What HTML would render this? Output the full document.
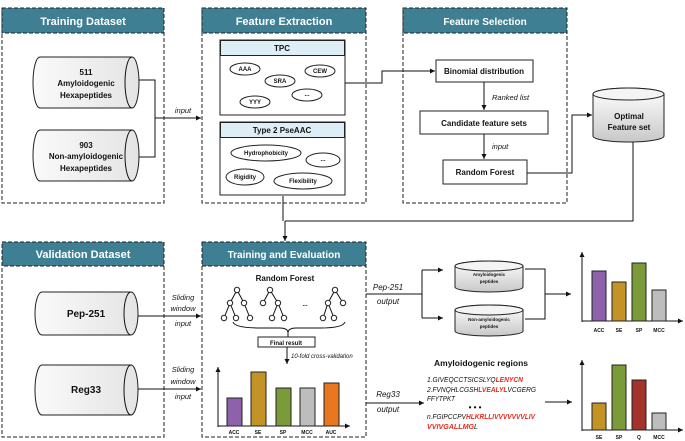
<!DOCTYPE html>
<html><head><meta charset="utf-8"><style>
html,body{margin:0;padding:0;background:#fff}
svg{display:block}
text{font-family:"Liberation Sans",sans-serif}
.h{fill:#fff;font-weight:bold;font-size:11px}
.b{font-weight:bold;font-size:8px;fill:#111}
.s{font-weight:bold;font-size:6px;fill:#111}
.i{font-style:italic;font-size:7.5px;fill:#111}
.pn{fill:#fff;stroke:#222;stroke-dasharray:4,2;stroke-width:1}
.hd{fill:#3f7f93;stroke:#222;stroke-dasharray:4,2;stroke-width:1}
.ln{fill:none;stroke:#111;stroke-width:1}
.bx{fill:#fff;stroke:#222;stroke-width:1}
.el{fill:#fff;stroke:#222;stroke-width:1}
.cy{fill:#ececec;stroke:#222;stroke-width:1}
.seq{font-style:italic;font-size:7.5px;fill:#111}
.r{fill:#e32b1e;font-weight:bold}
</style></head><body>
<svg width="685" height="441" viewBox="0 0 685 441" xmlns="http://www.w3.org/2000/svg">
<defs>
<marker id="a" markerWidth="6" markerHeight="6" refX="5" refY="3" orient="auto" markerUnits="userSpaceOnUse"><path d="M0,0.5 L5,3 L0,5.5z" fill="#111"/></marker>
<linearGradient id="g" x1="0" y1="0" x2="0" y2="1"><stop offset="0" stop-color="#fff"/><stop offset="1" stop-color="#c8c8c8"/></linearGradient>
<linearGradient id="gh" x1="0" y1="0" x2="1" y2="0"><stop offset="0" stop-color="#fafafa"/><stop offset="1" stop-color="#e4e4e4"/></linearGradient>
</defs>

<!-- Panels -->
<rect class="pn" x="2" y="8" width="162" height="195"/><rect class="hd" x="2" y="8" width="162" height="25"/>
<text class="h" x="83" y="25" text-anchor="middle">Training Dataset</text>
<rect class="pn" x="202" y="8" width="164" height="195"/><rect class="hd" x="202" y="8" width="164" height="25"/>
<text class="h" x="284" y="25" text-anchor="middle">Feature Extraction</text>
<rect class="pn" x="403" y="8" width="164" height="195"/><rect class="hd" x="403" y="8" width="164" height="25"/>
<text class="h" x="485" y="25" text-anchor="middle" style="font-size:10px">Feature Selection</text>
<rect class="pn" x="2" y="242" width="162" height="195"/><rect class="hd" x="2" y="242" width="162" height="24"/>
<text class="h" x="83" y="258" text-anchor="middle">Validation Dataset</text>
<rect class="pn" x="202" y="242" width="164" height="195"/><rect class="hd" x="202" y="242" width="164" height="24"/>
<text class="h" x="284" y="258" text-anchor="middle" style="font-size:10px">Training and Evaluation</text>

<!-- Training cylinders (horizontal) -->
<path class="cy" style="fill:url(#gh)" d="M40,57 L132,57 A7,25.5 0 0 1 132,108 L40,108 A7,25.5 0 0 1 40,57z"/>
<path class="ln" d="M132,57 A7,25.5 0 0 0 132,108"/>
<text class="b" x="86" y="75" text-anchor="middle">511</text>
<text class="b" x="86" y="86" text-anchor="middle">Amyloidogenic</text>
<text class="b" x="86" y="98" text-anchor="middle">Hexapeptides</text>
<path class="cy" style="fill:url(#gh)" d="M40,130 L132,130 A7,25.5 0 0 1 132,181 L40,181 A7,25.5 0 0 1 40,130z"/>
<path class="ln" d="M132,130 A7,25.5 0 0 0 132,181"/>
<text class="b" x="86" y="148" text-anchor="middle">903</text>
<text class="b" x="86" y="159" text-anchor="middle">Non-amyloidogenic</text>
<text class="b" x="86" y="171" text-anchor="middle">Hexapeptides</text>
<path class="ln" d="M139,80 H155 V157 H139 M155,118 H201" marker-end="url(#a)"/>
<text class="i" x="183" y="113" text-anchor="middle">input</text>

<!-- TPC -->
<rect class="bx" x="220" y="40" width="125" height="75"/><rect x="220.5" y="40.5" width="124" height="15" fill="#deeef6" stroke="#222"/>
<text class="b" x="282" y="51" text-anchor="middle">TPC</text>
<ellipse class="el" cx="245" cy="69" rx="15" ry="6"/><text class="s" x="245" y="71" text-anchor="middle">AAA</text>
<ellipse class="el" cx="280" cy="81" rx="15" ry="6"/><text class="s" x="280" y="83" text-anchor="middle">SRA</text>
<ellipse class="el" cx="320" cy="71" rx="15" ry="6"/><text class="s" x="320" y="73" text-anchor="middle">CEW</text>
<ellipse class="el" cx="307" cy="95" rx="15" ry="6"/><text class="s" x="307" y="96" text-anchor="middle">...</text>
<ellipse class="el" cx="255" cy="102" rx="15" ry="6"/><text class="s" x="255" y="104" text-anchor="middle">YYY</text>
<!-- PseAAC -->
<rect class="bx" x="220" y="122" width="125" height="73"/><rect x="220.5" y="122.5" width="124" height="15" fill="#deeef6" stroke="#222"/>
<text class="b" x="282" y="133" text-anchor="middle">Type 2 PseAAC</text>
<ellipse class="el" cx="266" cy="153" rx="35" ry="8"/><text class="s" x="266" y="155" text-anchor="middle">Hydrophobicity</text>
<ellipse class="el" cx="323" cy="160" rx="17" ry="7"/><text class="s" x="323" y="161" text-anchor="middle">...</text>
<ellipse class="el" cx="245" cy="177" rx="19" ry="8"/><text class="s" x="245" y="179" text-anchor="middle">Rigidity</text>
<ellipse class="el" cx="303" cy="181" rx="29" ry="8"/><text class="s" x="303" y="183" text-anchor="middle">Flexibility</text>

<!-- Feature selection -->
<path class="ln" d="M345,83 H382 V71 H435" marker-end="url(#a)"/>
<rect class="bx" x="436" y="60" width="97" height="22"/><text class="b" x="484" y="74" text-anchor="middle">Binomial distribution</text>
<path class="ln" d="M484,82 V110" marker-end="url(#a)"/><text class="i" x="492" y="100">Ranked list</text>
<rect class="bx" x="420" y="111" width="128" height="23"/><text class="b" x="484" y="126" text-anchor="middle">Candidate feature sets</text>
<path class="ln" d="M484,134 V159" marker-end="url(#a)"/><text class="i" x="492" y="149">input</text>
<rect class="bx" x="443" y="160" width="84" height="24"/><text class="b" x="485" y="175" text-anchor="middle">Random Forest</text>
<path class="ln" d="M527,173 H572 V115 H592" marker-end="url(#a)"/>
<!-- Optimal cylinder -->
<path class="cy" style="fill:url(#g)" d="M593,94 A35.5,6 0 0 1 664,94 V136 A35.5,6 0 0 1 593,136z"/>
<ellipse cx="628.5" cy="94" rx="35.5" ry="6" fill="#f4f4f4" stroke="#222"/>
<text class="b" x="629" y="119" text-anchor="middle">Optimal</text>
<text class="b" x="629" y="130" text-anchor="middle">Feature set</text>
<path class="ln" d="M633,142 V221 H285 M283,196 V221 M285,221 V241" marker-end="url(#a)"/>

<!-- Validation cylinders -->
<path class="cy" style="fill:url(#gh)" d="M42,292 L131,292 A7,21.5 0 0 1 131,335 L42,335 A7,21.5 0 0 1 42,292z"/>
<path class="ln" d="M131,292 A7,21.5 0 0 0 131,335"/>
<text class="b" x="86" y="317" text-anchor="middle" style="font-size:10px">Pep-251</text>
<path class="cy" style="fill:url(#gh)" d="M42,365 L131,365 A7,25 0 0 1 131,415 L42,415 A7,25 0 0 1 42,365z"/>
<path class="ln" d="M131,365 A7,25 0 0 0 131,415"/>
<text class="b" x="86" y="393" text-anchor="middle" style="font-size:10px">Reg33</text>
<path class="ln" d="M138,316 H201" marker-end="url(#a)"/>
<path class="ln" d="M138,389 H201" marker-end="url(#a)"/>
<text class="i" x="183" y="300" text-anchor="middle">Sliding</text><text class="i" x="183" y="311" text-anchor="middle">window</text><text class="i" x="183" y="326" text-anchor="middle">input</text>
<text class="i" x="183" y="372" text-anchor="middle">Sliding</text><text class="i" x="183" y="384" text-anchor="middle">window</text><text class="i" x="183" y="399" text-anchor="middle">input</text>

<!-- Training & evaluation -->
<text class="b" x="285" y="281" text-anchor="middle">Random Forest</text>
<g class="ln">
<path d="M237,290 L230,303 M237,290 L244,303 M230,303 L224,318 M230,303 L236,318 M244,303 L250,318"/>
<path d="M270,290 L263,303 M270,290 L278,303 M278,303 L272,318 M278,303 L284,318"/>
<path d="M335,290 L328,303 M335,290 L343,303 M328,303 L323,318 M328,303 L334,318"/>
<path d="M233,322 Q235,328 260,328 H280 Q287,328 288,332 Q289,328 296,328 H320 Q343,328 345,322"/>
</g>
<g fill="#fff" stroke="#222" stroke-width="1">
<circle cx="237" cy="290" r="2.7"/><circle cx="230" cy="303" r="2.7"/><circle cx="244" cy="303" r="2.7"/><circle cx="224" cy="318" r="2.7"/><circle cx="236" cy="318" r="2.7"/><circle cx="250" cy="318" r="2.7"/>
<circle cx="270" cy="290" r="2.7"/><circle cx="263" cy="303" r="2.7"/><circle cx="278" cy="303" r="2.7"/><circle cx="272" cy="318" r="2.7"/><circle cx="284" cy="318" r="2.7"/>
<circle cx="335" cy="290" r="2.7"/><circle cx="328" cy="303" r="2.7"/><circle cx="343" cy="303" r="2.7"/><circle cx="323" cy="318" r="2.7"/><circle cx="334" cy="318" r="2.7"/>
</g>
<text class="s" x="305" y="306" text-anchor="middle">...</text>
<path class="ln" d="M288,332 V337"/>
<rect class="bx" x="258" y="337" width="57" height="10"/><text class="s" x="286" y="345" text-anchor="middle">Final result</text>
<path class="ln" d="M287,347 V364" marker-end="url(#a)"/>
<text class="i" x="291" y="358" style="font-size:6px">10-fold cross-validation</text>
<path class="ln" d="M218,427 V367" marker-end="url(#a)"/><path class="ln" d="M218,426 H350" marker-end="url(#a)"/>
<g stroke="#222" stroke-width="1">
<rect x="227" y="398" width="15" height="28" fill="#8e62ab"/>
<rect x="251" y="372" width="15" height="54" fill="#c39425"/>
<rect x="276" y="388" width="15" height="38" fill="#7b9a3a"/>
<rect x="300" y="388" width="15" height="38" fill="#bdbdbd"/>
<rect x="324" y="383" width="15" height="43" fill="#e8771f"/>
</g>
<g class="s" text-anchor="middle" style="font-size:5px"><text x="234" y="434">ACC</text><text x="258" y="434">SE</text><text x="283" y="434">SP</text><text x="307" y="434">MCC</text><text x="331" y="434">AUC</text></g>

<!-- Pep output -->
<path class="ln" d="M366,294 H422 M422,270 V318 M422,270 H442 M422,318 H442"/>
<path class="ln" d="M432,270 H443" marker-end="url(#a)"/><path class="ln" d="M432,318 H443" marker-end="url(#a)"/>
<text class="i" x="388" y="290" text-anchor="middle" style="font-size:8px">Pep-251</text>
<text class="i" x="388" y="304" text-anchor="middle" style="font-size:8px">output</text>
<path class="cy" style="fill:url(#g)" d="M455,266 A34,5 0 0 1 523,266 V287 A34,5 0 0 1 455,287z"/>
<ellipse cx="489" cy="266" rx="34" ry="5" fill="#f4f4f4" stroke="#222"/>
<text class="s" x="489" y="276" text-anchor="middle" style="font-size:4.5px">Amyloidogenic</text><text class="s" x="489" y="283" text-anchor="middle" style="font-size:4.5px">peptides</text>
<path class="cy" style="fill:url(#g)" d="M455,310 A34,5 0 0 1 523,310 V331 A34,5 0 0 1 455,331z"/>
<ellipse cx="489" cy="310" rx="34" ry="5" fill="#f4f4f4" stroke="#222"/>
<text class="s" x="489" y="321" text-anchor="middle" style="font-size:4.5px">Non-amyloidogenic</text><text class="s" x="489" y="328" text-anchor="middle" style="font-size:4.5px">peptides</text>
<path class="ln" d="M525,269 H545 V319 H525 M545,294 H571" marker-end="url(#a)"/>
<path class="ln" d="M582,322 V252" marker-end="url(#a)"/><path class="ln" d="M582,321 H683" marker-end="url(#a)"/>
<g stroke="#222" stroke-width="1">
<rect x="592" y="271" width="14" height="50" fill="#8e62ab"/>
<rect x="612" y="282" width="14" height="39" fill="#c39425"/>
<rect x="632" y="263" width="14" height="58" fill="#7b9a3a"/>
<rect x="652" y="290" width="14" height="31" fill="#bdbdbd"/>
</g>
<g class="s" text-anchor="middle" style="font-size:5px"><text x="599" y="332">ACC</text><text x="619" y="332">SE</text><text x="639" y="332">SP</text><text x="659" y="332">MCC</text></g>

<!-- Reg output -->
<path class="ln" d="M366,403 H424" marker-end="url(#a)"/>
<text class="i" x="388" y="397" text-anchor="middle" style="font-size:8px">Reg33</text>
<text class="i" x="388" y="412" text-anchor="middle" style="font-size:8px">output</text>
<text class="b" x="481" y="366" text-anchor="middle" style="font-size:8.5px">Amyloidogenic regions</text>
<text class="seq" x="427" y="382" textLength="96" lengthAdjust="spacingAndGlyphs">1.GIVEQCCTSICSLYQ<tspan class="r">LENYCN</tspan></text>
<text class="seq" x="427" y="392" textLength="109" lengthAdjust="spacingAndGlyphs">2.FVNQHLCGSH<tspan class="r">LVEALYL</tspan>VCGERG</text>
<text class="seq" x="427" y="401" textLength="28" lengthAdjust="spacingAndGlyphs">FFYTPKT</text>
<text class="b" x="475" y="410" text-anchor="middle">• • •</text>
<text class="seq" x="427" y="419" textLength="108" lengthAdjust="spacingAndGlyphs">n.FGIPCCPV<tspan class="r">HLKRLLIVVVVVVVLIV</tspan></text>
<text class="seq" x="427" y="429" textLength="51" lengthAdjust="spacingAndGlyphs"><tspan class="r">VVIVGALLMG</tspan>L</text>
<path class="ln" d="M545,402 H572" marker-end="url(#a)"/>
<path class="ln" d="M582,431 V360" marker-end="url(#a)"/><path class="ln" d="M582,430 H683" marker-end="url(#a)"/>
<g stroke="#222" stroke-width="1">
<rect x="592" y="403" width="14" height="27" fill="#c39425"/>
<rect x="612" y="365" width="14" height="65" fill="#7b9a3a"/>
<rect x="632" y="380" width="14" height="50" fill="#a3322b"/>
<rect x="652" y="413" width="14" height="17" fill="#bdbdbd"/>
</g>
<g class="s" text-anchor="middle" style="font-size:5px"><text x="599" y="439">SE</text><text x="619" y="439">SP</text><text x="639" y="439">Q</text><text x="659" y="439">MCC</text></g>
</svg>
</body></html>
